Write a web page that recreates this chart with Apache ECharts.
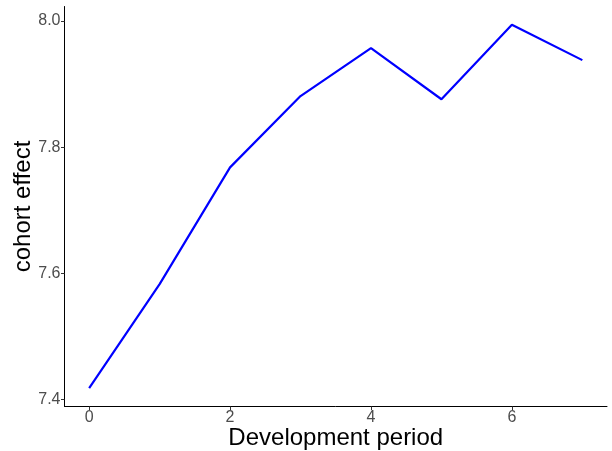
<!DOCTYPE html>
<html>
<head>
<meta charset="utf-8">
<script src="https://cdn.jsdelivr.net/npm/echarts@6/dist/echarts.min.js"></script>
<style>html,body{margin:0;padding:0;background:#fff}#c{width:612px;height:451px}</style>
</head>
<body>
<div id="c"></div>
<script>
const periods = [0, 1, 2, 3, 4, 5, 6, 7];
const cohortEffect = [7.418, 7.583, 7.768, 7.881, 7.957, 7.876, 7.994, 7.938];
const xTicks = [0, 2, 4, 6];
const yTicks = [7.4, 7.6, 7.8, 8.0];

const chart = echarts.init(document.getElementById('c'), null, {renderer: 'canvas'});
const font = 'Liberation Sans, Arial, sans-serif';
chart.setOption({
  animation: false,
  backgroundColor: '#ffffff',
  grid: {left: 64.5, right: 5, top: 6.5, bottom: 44.5, containLabel: false, outerBoundsMode: 'none'},
  xAxis: {
    type: 'value', min: -0.35, max: 7.35,
    name: 'Development period', nameLocation: 'middle', nameGap: 32, nameMoveOverlap: false,
    nameTextStyle: {fontFamily: font, fontSize: 24, color: '#000', verticalAlign: 'middle'},
    axisLine: {show: true, onZero: false, lineStyle: {color: '#000', width: 1}},
    axisTick: {show: true, length: 3.5, customValues: xTicks, lineStyle: {color: '#333', width: 1}},
    axisLabel: {customValues: xTicks, color: '#4d4d4d', fontFamily: font, fontSize: 16, margin: 3},
    splitLine: {show: false}
  },
  yAxis: {
    type: 'value', min: 7.389, max: 8.023,
    name: 'cohort effect', nameLocation: 'middle', nameGap: 41, nameRotate: 90, nameMoveOverlap: false,
    nameTextStyle: {fontFamily: font, fontSize: 24, color: '#000', verticalAlign: 'middle'},
    axisLine: {show: true, onZero: false, lineStyle: {color: '#000', width: 1}},
    axisTick: {show: true, length: 3.5, customValues: yTicks, lineStyle: {color: '#333', width: 1}},
    axisLabel: {customValues: yTicks, color: '#4d4d4d', fontFamily: font, fontSize: 16, margin: 4,
      formatter: v => v.toFixed(1)},
    splitLine: {show: false}
  },
  series: [{
    type: 'line',
    data: periods.map((p, i) => [p, cohortEffect[i]]),
    showSymbol: false, symbol: 'none',
    lineStyle: {color: '#0000ff', width: 2.2},
    itemStyle: {color: '#0000ff'}
  }]
});
</script>
</body>
</html>
